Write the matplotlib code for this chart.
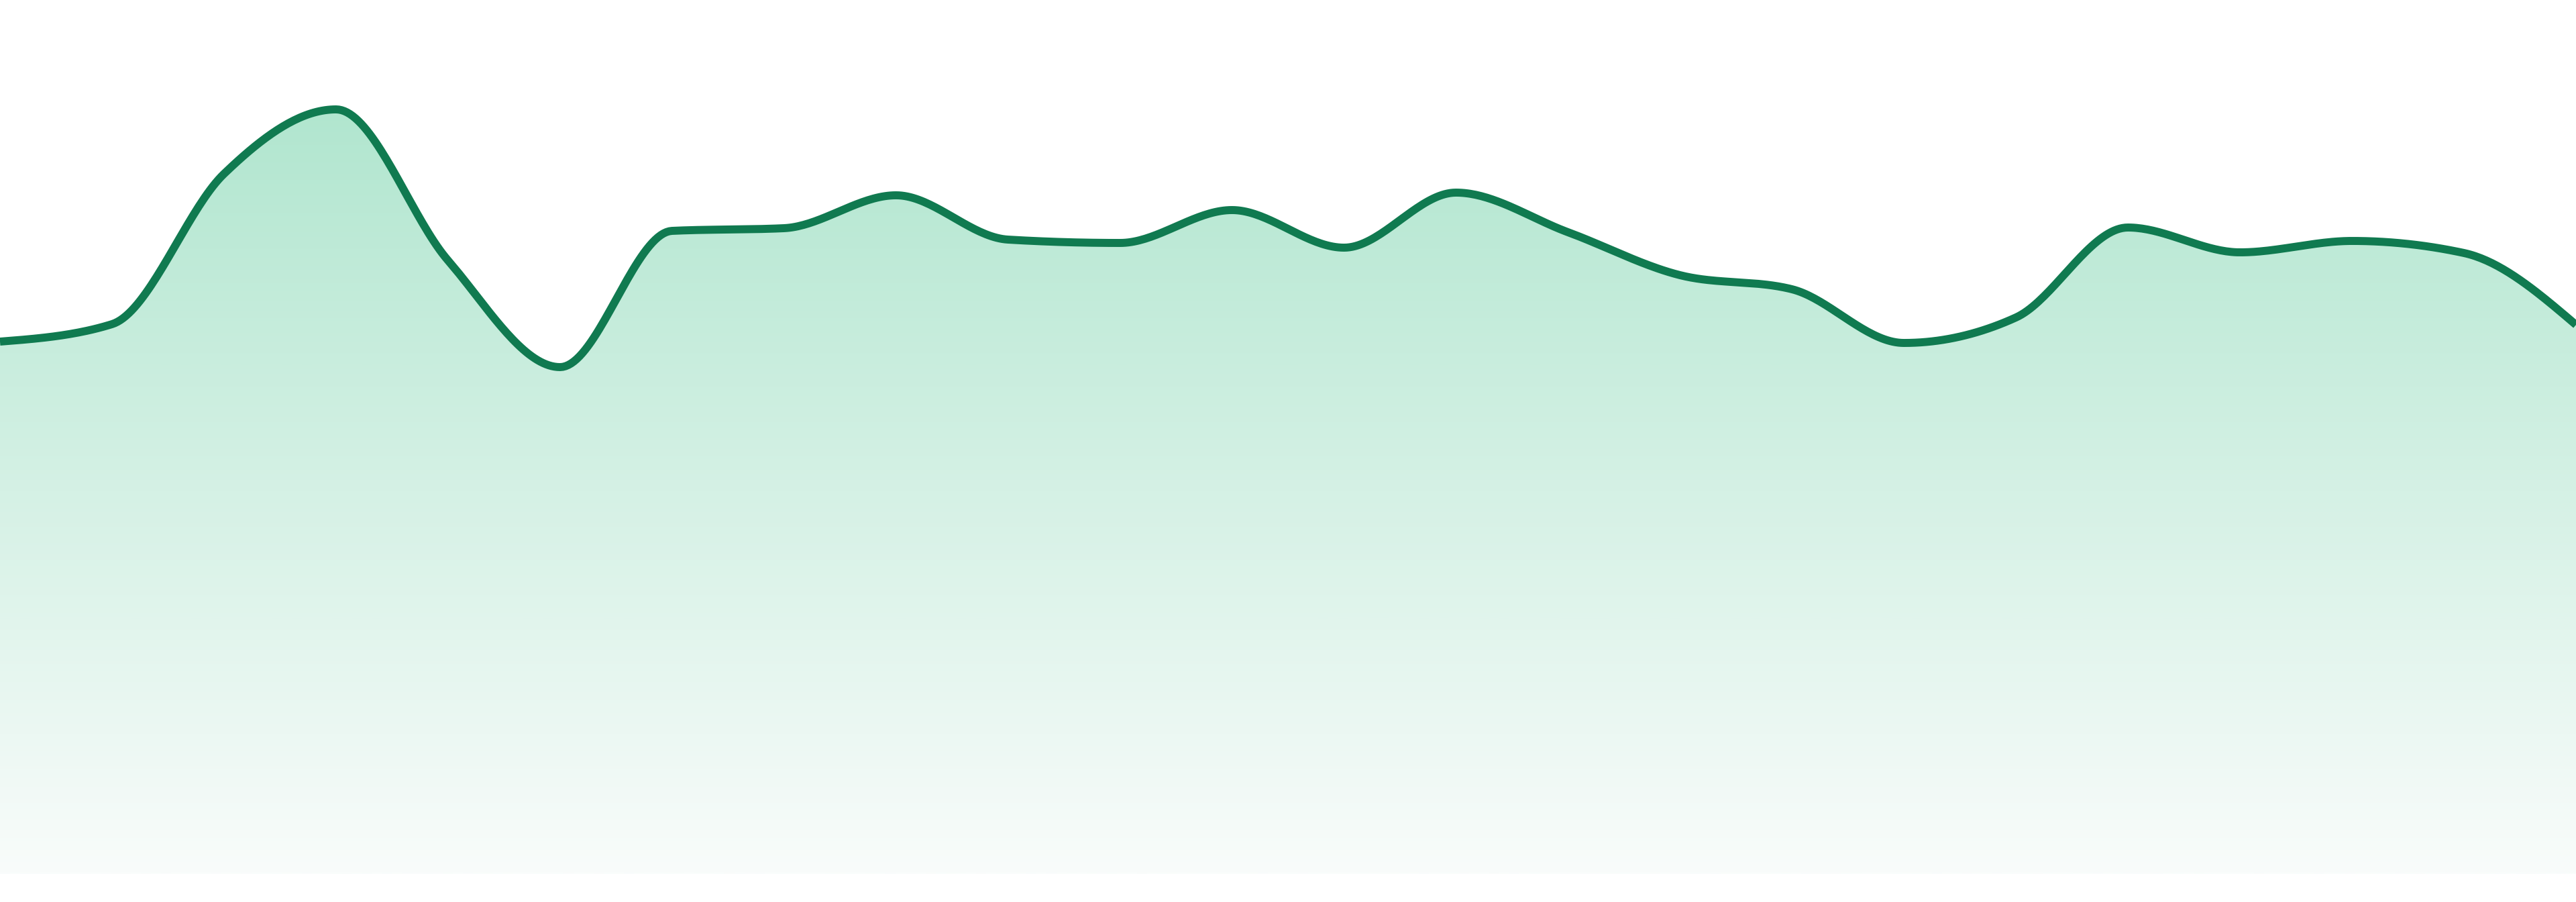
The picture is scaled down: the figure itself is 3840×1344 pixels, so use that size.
import matplotlib
matplotlib.use('Agg')
import matplotlib.pyplot as plt
import numpy as np
from matplotlib.colors import LinearSegmentedColormap

# one value per step
steps = list(range(24))
values = [79.3, 81.9, 104.3, 113.9, 91.4, 75.5, 95.8, 96.2, 101.1, 94.5, 94.0, 98.9,
          93.3, 101.5, 95.6, 89.2, 87.1, 79.1, 82.9, 96.3, 92.6, 94.3, 92.5, 81.8]

LINE = '#107a50'
TOP = (177 / 255, 230 / 255, 207 / 255)
BOTTOM = (249 / 255, 252 / 255, 251 / 255)


# monotone cubic smoothing, same idea as d3's curveMonotoneX
def monotone(x, y, n=40):
    x = np.asarray(x, float)
    y = np.asarray(y, float)
    h = np.diff(x)
    s = np.diff(y) / h
    t = np.zeros_like(y)
    for i in range(1, len(x) - 1):
        p = (s[i - 1] * h[i] + s[i] * h[i - 1]) / (h[i - 1] + h[i])
        t[i] = (np.sign(s[i - 1]) + np.sign(s[i])) * min(abs(s[i - 1]), abs(s[i]), 0.5 * abs(p))
    t[0] = (3 * s[0] - t[1]) / 2
    t[-1] = (3 * s[-1] - t[-2]) / 2
    xs, ys = [], []
    for i in range(len(x) - 1):
        u = np.linspace(0, 1, n, endpoint=False)
        h00 = 2 * u ** 3 - 3 * u ** 2 + 1
        h10 = u ** 3 - 2 * u ** 2 + u
        h01 = -2 * u ** 3 + 3 * u ** 2
        h11 = u ** 3 - u ** 2
        xs.append(x[i] + u * h[i])
        ys.append(h00 * y[i] + h10 * h[i] * t[i] + h01 * y[i + 1] + h11 * h[i] * t[i + 1])
    xs.append([x[-1]])
    ys.append([y[-1]])
    return np.concatenate(xs), np.concatenate(ys)


fig = plt.figure(figsize=(38.4, 13.44), dpi=100)
ax = fig.add_axes([0, 42 / 1344, 1, 1302 / 1344])
ax.set_xlim(0, 23)
ax.set_ylim(0, 130.2)
ax.axis('off')

sx, sy = monotone(steps, values)

# gradient under the curve
top = max(values)
cmap = LinearSegmentedColormap.from_list('fade', [BOTTOM, TOP])
grad = np.linspace(0, 1, 512).reshape(-1, 1)
img = ax.imshow(grad, cmap=cmap, aspect='auto', origin='lower',
                extent=[0, 23, 0, top], interpolation='bilinear', zorder=1)
clip = plt.Polygon(np.column_stack([np.r_[sx, sx[-1], sx[0]], np.r_[sy, 0, 0]]),
                   transform=ax.transData, facecolor='none', edgecolor='none')
ax.add_patch(clip)
img.set_clip_path(clip)

ax.plot(sx, sy, color=LINE, lw=8.6, solid_capstyle='butt', solid_joinstyle='round', zorder=3)

fig.savefig('out.png', dpi=100, facecolor='white')
